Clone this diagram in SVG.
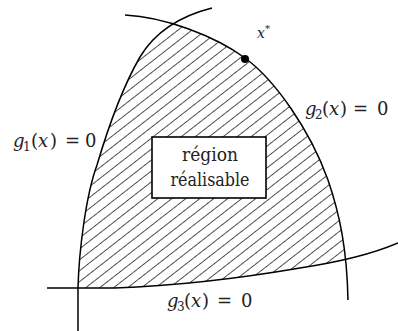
<svg xmlns="http://www.w3.org/2000/svg" width="398" height="331" viewBox="0 0 398 331">
<style>
.curve{fill:none;stroke:#000;stroke-width:1.5}
.lbl{font-family:'DejaVu Serif','Liberation Serif',serif;font-size:18px;fill:#222}
.bx{font-family:'DejaVu Serif','Liberation Serif',serif;font-size:18px;fill:#222}
.it{font-style:italic}
.sub{font-size:12px}
.box{fill:#fff;stroke:#000;stroke-width:1.6}
</style>
<defs>
<pattern id="hatch" patternUnits="userSpaceOnUse" width="20" height="8.6" patternTransform="rotate(-38)">
<line x1="0" y1="4.3" x2="20" y2="4.3" stroke="#3a3a3a" stroke-width="0.9"/>
</pattern>
<clipPath id="clipA"><path d="M78,331 L78,288 C79,250 86,195 97,165 C108,128 122,88 140,57 C155,32 180,16 212,8 L398,0 L398,331 Z"/></clipPath>
<clipPath id="clipB"><path d="M125,15 C165,17 215,36 245,58 C275,80 310,130 328,180 C340,215 347,250 348,300 L348,331 L0,331 L0,15 Z"/></clipPath>
<clipPath id="clipC"><path d="M47,288 L115,288 C170,286 230,280 300,268 C340,262 370,255 398,243 L398,0 L0,0 L0,288 Z"/></clipPath>
</defs>
<rect width="398" height="331" fill="#fff"/>
<g id="region">
<g clip-path="url(#clipA)"><g clip-path="url(#clipB)"><g clip-path="url(#clipC)">
<rect x="0" y="0" width="398" height="331" fill="url(#hatch)"/>
</g></g></g>
</g>
<g id="connectors">
<path id="g1-curve" class="curve" d="M78,331 L78,288 C79,250 86,195 97,165 C108,128 122,88 140,57 C155,32 180,16 212,8"/>
<path id="g2-curve" class="curve" d="M125,15 C165,17 215,36 245,58 C275,80 310,130 328,180 C340,215 347,250 348,300"/>
<path id="g3-curve" class="curve" d="M47,288 L115,288 C170,286 230,280 300,268 C340,262 370,255 398,243"/>
</g>
<g id="xstar">
<circle cx="245" cy="59" r="4" fill="#000"/>
<text class="lbl" style="font-size:14px" x="257" y="38"><tspan class="it">x</tspan><tspan style="font-size:10px" dy="-6">*</tspan></text>
</g>
<g id="label-g1">
<text class="lbl" y="147"><tspan class="it" x="13">g</tspan><tspan class="sub" x="23" dy="4">1</tspan><tspan x="31" dy="-4">(</tspan><tspan class="it" x="38">x</tspan><tspan x="50">)</tspan><tspan x="65">=</tspan><tspan x="85">0</tspan></text>
</g>
<g id="label-g2">
<text class="lbl" y="115"><tspan class="it" x="305">g</tspan><tspan class="sub" x="315" dy="4">2</tspan><tspan x="322" dy="-4">(</tspan><tspan class="it" x="329">x</tspan><tspan x="340">)</tspan><tspan x="353">=</tspan><tspan x="377">0</tspan></text>
</g>
<g id="label-g3">
<text class="lbl" y="307"><tspan class="it" x="167">g</tspan><tspan class="sub" x="177" dy="4">3</tspan><tspan x="184" dy="-4">(</tspan><tspan class="it" x="191">x</tspan><tspan x="202">)</tspan><tspan x="217">=</tspan><tspan x="241">0</tspan></text>
</g>
<g id="box">
<rect class="box" x="152" y="137" width="114" height="61"/>
<text class="bx" x="210" y="161" text-anchor="middle" textLength="56" lengthAdjust="spacingAndGlyphs">région</text>
<text class="bx" x="210" y="186" text-anchor="middle" textLength="79" lengthAdjust="spacingAndGlyphs">réalisable</text>
</g>
</svg>
